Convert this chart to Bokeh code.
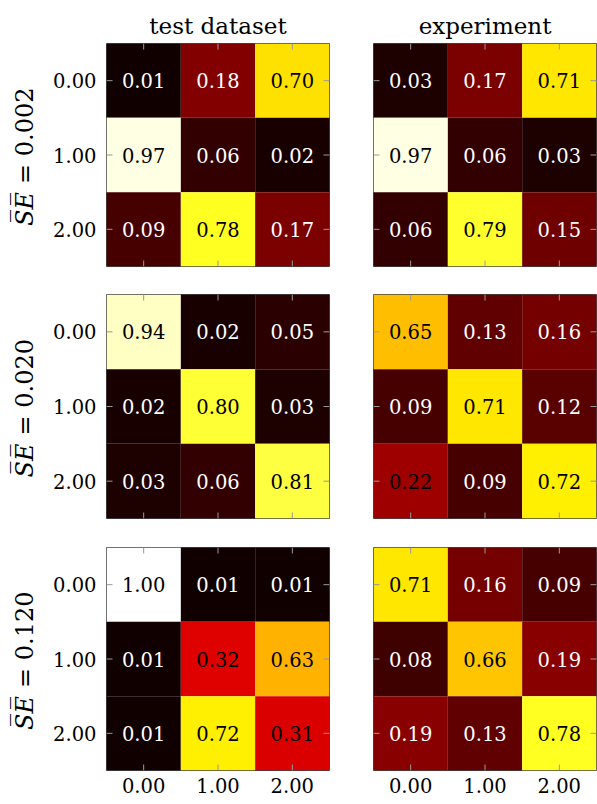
import math
from bokeh.plotting import figure
from bokeh.layouts import gridplot
from bokeh.models import (ColumnDataSource, LinearColorMapper, FixedTicker,
                          Range1d, CustomJSTickFormatter)
from bokeh.transform import transform
from bokeh.embed import file_html
from bokeh.resources import INLINE

# ---------------- data ----------------
classes = [0, 1, 2]
tick_labels = ["0.00", "1.00", "2.00"]
col_titles = ["test dataset", "experiment"]
se_labels = ["0.002", "0.020", "0.120"]

# rows of each matrix = y (true class), columns = x
test_002 = [[0.01, 0.18, 0.70],
            [0.97, 0.06, 0.02],
            [0.09, 0.78, 0.17]]
exp_002 = [[0.03, 0.17, 0.71],
           [0.97, 0.06, 0.03],
           [0.06, 0.79, 0.15]]
test_020 = [[0.94, 0.02, 0.05],
            [0.02, 0.80, 0.03],
            [0.03, 0.06, 0.81]]
exp_020 = [[0.65, 0.13, 0.16],
           [0.09, 0.71, 0.12],
           [0.22, 0.09, 0.72]]
test_120 = [[1.00, 0.01, 0.01],
            [0.01, 0.32, 0.63],
            [0.01, 0.72, 0.31]]
exp_120 = [[0.71, 0.16, 0.09],
           [0.08, 0.66, 0.19],
           [0.19, 0.13, 0.78]]

matrices = [[test_002, exp_002], [test_020, exp_020], [test_120, exp_120]]


# ------------- "hot" colormap palette -------------
def _interp(segs, t):
    for (x0, _, y0), (x1, y1, _) in zip(segs[:-1], segs[1:]):
        if x0 <= t <= x1:
            return y0 + (y1 - y0) * (t - x0) / (x1 - x0) if x1 > x0 else y1
    return segs[-1][1]


_red = [(0.0, 0.0416, 0.0416), (0.365079, 1.0, 1.0), (1.0, 1.0, 1.0)]
_green = [(0.0, 0.0, 0.0), (0.365079, 0.0, 0.0), (0.746032, 1.0, 1.0), (1.0, 1.0, 1.0)]
_blue = [(0.0, 0.0, 0.0), (0.746032, 0.0, 0.0), (1.0, 1.0, 1.0)]
hot = []
for i in range(256):
    t = i / 255
    r, g, b = (_interp(s, t) for s in (_red, _green, _blue))
    hot.append("#%02x%02x%02x" % (round(r * 255), round(g * 255), round(b * 255)))

mapper = LinearColorMapper(palette=hot, low=0.0, high=1.0)

FONT = "DejaVu Serif"
FRAME_W = 223
TICK_COLOR = "#9a9a9a"
TICK_LEN = 6
X0, X1 = -0.5, 2.5
Y0, Y1 = 2.5, -0.5   # inverted: class 0 on top

fmt = CustomJSTickFormatter(args=dict(labels=tick_labels),
                            code="return labels[Math.round(tick)];")

# (top border, bottom border, frame height) per row
borders_y = [(43, 14, 223), (14, 14, 224), (15, 34, 223)]
HELPER_W = 48
borders_x = [(58, 22), (22, 1)]

rows = []
for r in range(3):
    top, bottom, fh = borders_y[r]
    # ---------- helper figure with the row label ----------
    h = figure(frame_width=HELPER_W, frame_height=fh,
               x_range=Range1d(0, 1), y_range=Range1d(Y0, Y1),
               output_backend="svg", toolbar_location=None,
               x_axis_location=None, y_axis_location=None,
               min_border_top=top, min_border_bottom=bottom,
               min_border_left=0, min_border_right=0)
    h.grid.visible = False
    h.outline_line_color = None
    lab = ColumnDataSource(dict(x=[0.5], y=[1], se=["S\u0305E\u0305"],
                                rest=["= " + se_labels[r]]))
    h.text(x="x", y="y", text="se", source=lab, angle=math.pi / 2,
           text_align="right", text_baseline="middle", y_offset=37,
           text_font={"value": FONT}, text_font_style="italic",
           text_font_size="24px", text_color="black")
    h.text(x="x", y="y", text="rest", source=lab, angle=math.pi / 2,
           text_align="left", text_baseline="middle", y_offset=29,
           text_font={"value": FONT},
           text_font_size="24px", text_color="black")
    row = [h]

    for c in range(2):
        m = matrices[r][c]
        xs, ys, vals, txt, tcol = [], [], [], [], []
        for yi in classes:
            for xi in classes:
                v = m[yi][xi]
                xs.append(xi)
                ys.append(yi)
                vals.append(v)
                txt.append("%.2f" % v)
                tcol.append("black" if v > 0.2 else "white")
        src = ColumnDataSource(dict(x=xs, y=ys, v=vals, t=txt, tc=tcol))

        left, right = borders_x[c]
        p = figure(frame_width=FRAME_W, frame_height=fh,
                   x_range=Range1d(X0, X1), y_range=Range1d(Y0, Y1),
                   output_backend="svg", toolbar_location=None,
                   min_border_top=top, min_border_bottom=bottom,
                   min_border_left=left, min_border_right=right,
                   x_axis_location="below" if r == 2 else None,
                   y_axis_location="left" if c == 0 else None)
        p.grid.visible = False
        p.outline_line_color = "#444444"
        p.outline_line_width = 1

        p.rect(x="x", y="y", width=1, height=1, source=src,
               fill_color=transform("v", mapper), line_color=None)
        p.text(x="x", y="y", text="t", source=src, text_color="tc",
               text_align="center", text_baseline="middle",
               text_font_size="19.5px", text_font={"value": FONT})

        # inward tick marks on all four sides
        n = len(classes)
        p.ray(x=[X0] * n, y=classes, length=TICK_LEN, length_units="screen",
              angle=0, line_color=TICK_COLOR, line_width=1)
        p.ray(x=[X1] * n, y=classes, length=TICK_LEN, length_units="screen",
              angle=math.pi, line_color=TICK_COLOR, line_width=1)
        p.ray(x=classes, y=[Y1] * n, length=TICK_LEN, length_units="screen",
              angle=-math.pi / 2, line_color=TICK_COLOR, line_width=1)
        p.ray(x=classes, y=[Y0] * n, length=TICK_LEN, length_units="screen",
              angle=math.pi / 2, line_color=TICK_COLOR, line_width=1)

        for ax in p.axis:
            ax.ticker = FixedTicker(ticks=classes)
            ax.formatter = fmt
            ax.minor_tick_line_color = None
            ax.major_tick_line_color = None
            ax.axis_line_color = None
            ax.major_tick_in = 0
            ax.major_tick_out = 0
            ax.major_label_text_font = FONT
            ax.major_label_text_font_size = "19.5px"
            ax.major_label_text_color = "black"
            ax.major_label_standoff = 10
        for ax in p.below:
            ax.major_label_standoff = 7

        if r == 0:
            p.title.text = col_titles[c]
            p.title.align = "center"
            p.title.text_font = FONT
            p.title.text_font_size = "23px"
            p.title.text_font_style = "normal"
            p.title.text_color = "black"
            p.title.standoff = 9
        row.append(p)
    rows.append(row)

grid = gridplot(rows, toolbar_location=None, merge_tools=False)
open("out.html", "w").write(file_html(grid, INLINE))
